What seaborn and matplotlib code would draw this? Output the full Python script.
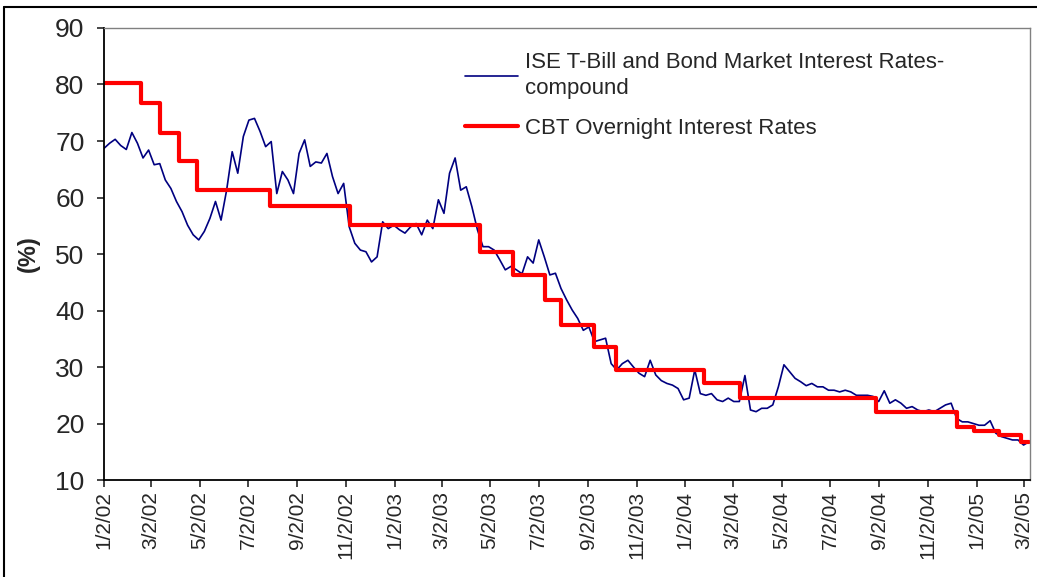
import numpy as np
import pandas as pd
import seaborn as sns
import matplotlib.pyplot as plt
from matplotlib.lines import Line2D

sns.set_style("white")
plt.rcParams['font.family'] = ['Liberation Sans', 'DejaVu Sans']

# ISE T-Bill and Bond market rates, read off the chart roughly once a week
ise_start = "2002-01-02"
ise_rates = [
    68.7, 69.6, 70.3, 69.2, 68.5, 71.5, 69.6, 67.0, 68.4, 65.8,
    66.0, 63.1, 61.6, 59.3, 57.5, 55.1, 53.4, 52.5, 54.0, 56.3,
    59.3, 56.0, 61.3, 68.1, 64.3, 70.8, 73.7, 74.0, 71.7, 69.0,
    69.9, 60.7, 64.6, 63.1, 60.7, 67.8, 70.2, 65.5, 66.3, 66.1,
    67.8, 63.7, 60.7, 62.5, 54.8, 51.9, 50.7, 50.4, 48.6, 49.5,
    55.7, 54.5, 55.1, 54.3, 53.7, 54.8, 55.4, 53.4, 56.0, 54.5,
    59.6, 57.2, 64.3, 67.0, 61.3, 61.9, 58.4, 54.3, 51.3, 51.3,
    50.7, 49.0, 47.2, 47.8, 47.2, 46.5, 49.5, 48.4, 52.5, 49.5,
    46.3, 46.6, 43.9, 41.9, 40.1, 38.6, 36.5, 37.1, 34.5, 34.8,
    35.1, 30.6, 29.5, 30.6, 31.2, 30.0, 28.9, 28.3, 31.2, 28.6,
    27.6, 27.1, 26.8, 26.2, 24.2, 24.5, 29.5, 25.3, 25.0, 25.3,
    24.2, 23.9, 24.5, 23.9, 23.9, 28.5, 22.4, 22.1, 22.7, 22.7,
    23.3, 26.5, 30.4, 29.2, 28.0, 27.4, 26.7, 27.1, 26.5, 26.5,
    25.9, 25.9, 25.6, 25.9, 25.6, 25.0, 25.0, 25.0, 24.8, 23.9,
    25.8, 23.6, 24.2, 23.6, 22.7, 23.0, 22.4, 22.1, 22.4, 22.1,
    22.7, 23.3, 23.6, 20.9, 20.3, 20.3, 20.0, 19.7, 19.7, 20.5,
    18.3, 17.7, 17.4, 17.1, 17.1, 16.2, 16.8,
]

# CBT overnight rate: dates where the level changes
cbt_dates = [
    "2002-01-02", "2002-02-18", "2002-03-13", "2002-04-06", "2002-04-29",
    "2002-07-30", "2002-11-07", "2003-04-19", "2003-05-31", "2003-07-10",
    "2003-07-30", "2003-09-10", "2003-10-07", "2004-01-25", "2004-03-11",
    "2004-08-29", "2004-12-08", "2004-12-30", "2005-01-30", "2005-02-27",
    "2005-03-09",
]
cbt_rates = [
    80.3, 76.7, 71.5, 66.5, 61.3,
    58.5, 55.1, 50.4, 46.2, 41.8,
    37.5, 33.5, 29.4, 27.1, 24.5,
    22.1, 19.4, 18.6, 18.0, 16.7,
    16.7,
]

tick_dates = pd.date_range("2002-01-02", "2005-03-02", freq=pd.DateOffset(months=2))
tick_labels = [f"{d.month}/{d.day}/{d.year % 100:02d}" for d in tick_dates]

ise = pd.DataFrame({"date": pd.date_range(ise_start, periods=len(ise_rates), freq="7D"),
                    "rate": ise_rates})
cbt = pd.DataFrame({"date": pd.to_datetime(cbt_dates), "rate": cbt_rates})

fig = plt.figure(figsize=(10.37, 5.77), dpi=100)
ax = fig.add_axes([0.1003, 0.168, 0.8929, 0.7835])

sns.lineplot(data=ise, x="date", y="rate", color="#000080", lw=1.2, ax=ax,
             label="ISE T-Bill and Bond Market Interest Rates-\ncompound")
sns.lineplot(data=cbt, x="date", y="rate", color="#FF0000", lw=3, ax=ax,
             drawstyle="steps-post", label="CBT Overnight Interest Rates")

ax.set_xlim(pd.Timestamp("2002-01-02"), pd.Timestamp("2005-03-10"))
ax.set_ylim(10, 90)
ax.set_yticks(range(10, 91, 10))
ax.set_xticks(tick_dates)
ax.set_xticklabels(tick_labels, rotation=90, fontsize=15)
ax.tick_params(axis="y", labelsize=19, direction="out", length=5, width=1.2, pad=9, left=True)
ax.tick_params(axis="x", direction="out", length=5, width=1.2, pad=3, bottom=True)
ax.set_xlabel("")
ax.set_ylabel("(%)", fontsize=17, fontweight="bold")
ax.yaxis.set_label_coords(-0.069, 0.5)

for side in ["left", "bottom"]:
    ax.spines[side].set_color("black")
    ax.spines[side].set_linewidth(1.3)
for side in ["top", "right"]:
    ax.spines[side].set_color("#808080")
    ax.spines[side].set_linewidth(1)

leg = ax.legend(loc="upper left", bbox_to_anchor=(0.39, 0.947), frameon=False, fontsize=16,
                borderpad=0, borderaxespad=0, handlelength=2.4, handletextpad=0.3,
                labelspacing=0.85)
for t in leg.get_texts():
    t.set_linespacing(1.3)

# outer chart border (left and top)
fig.add_artist(Line2D([4 / 1037, 4 / 1037], [0, 1 - 7 / 577], color="black", lw=1.5,
                      transform=fig.transFigure))
fig.add_artist(Line2D([4 / 1037, 1], [1 - 7 / 577, 1 - 7 / 577], color="black", lw=1.5,
                      transform=fig.transFigure))

fig.savefig("out.png", dpi=100)
